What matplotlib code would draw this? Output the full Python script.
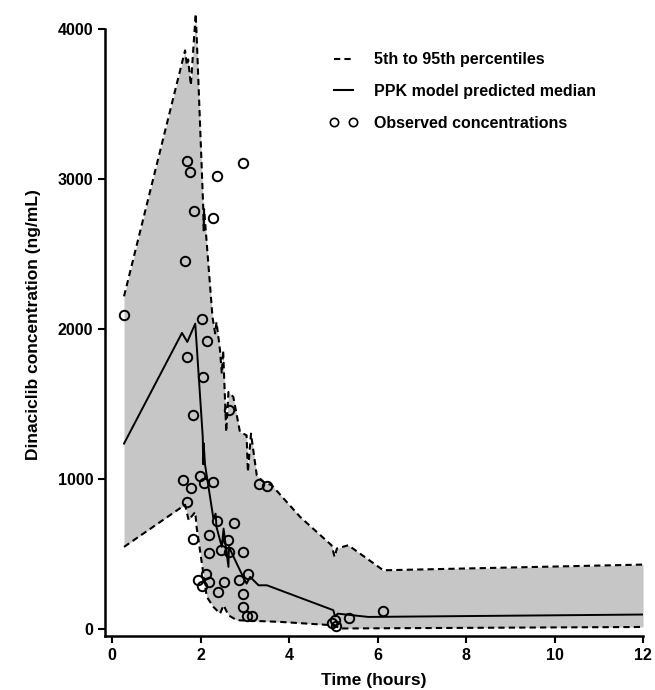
import numpy as np
import matplotlib
matplotlib.use("Agg")
from matplotlib import pyplot as plt
from matplotlib.lines import Line2D

plt.rcParams['font.family'] = ['Liberation Sans', 'DejaVu Sans']
plt.rcParams['font.weight'] = 'bold'

# 5th / 95th percentile bounds and median (hours, ng/mL)
upper_t = [0.27, 1.65, 1.69, 1.72, 1.78, 1.89, 1.91, 2.06, 2.07, 2.08, 2.27, 2.33, 2.36,
           2.44, 2.48, 2.51, 2.58, 2.63, 2.74, 2.89, 3.04, 3.07, 3.14, 3.27, 3.42, 3.61,
           4.25, 4.96, 5.03, 5.08, 5.34, 6.13, 12.0]
upper_c = [2220, 3860, 3760, 3800, 3627, 4104, 3970, 2815, 2660, 2800, 2080, 1973, 2049,
           1860, 1704, 1860, 1316, 1582, 1549, 1316, 1293, 1049, 1304, 1027, 982, 960,
           749, 560, 482, 538, 560, 393, 431]

lower_t = [0.27, 1.65, 1.73, 1.88, 1.91, 2.03, 2.14, 2.29, 2.44, 2.52, 2.63, 2.82, 3.80,
           4.96, 5.19, 12.0]
lower_c = [549, 830, 727, 782, 682, 438, 216, 149, 104, 160, 93, 60, 49,
           27, 5, 15]

median_t = [0.27, 1.58, 1.70, 1.88, 2.05, 2.06, 2.07, 2.10, 2.29, 2.34, 2.36, 2.48, 2.52,
            2.63, 2.64, 2.89, 3.04, 3.12, 3.31, 3.50, 5.00, 5.04, 5.10, 5.79, 12.0]
median_c = [1238, 1976, 1916, 2038, 1280, 1100, 1240, 1100, 738, 771, 682, 549, 671,
            416, 549, 393, 304, 349, 293, 293, 127, 85, 104, 82, 98]

# observed concentrations
obs_t = [0.27, 1.69, 1.76, 2.37, 2.97, 1.86, 2.29, 1.65, 2.03, 2.15, 1.69, 2.05, 1.82,
         2.65, 3.31, 3.50, 1.60, 1.79, 1.98, 2.07, 2.29, 1.69, 2.37, 2.76, 1.84, 2.20,
         2.63, 2.20, 2.46, 2.64, 2.97, 2.12, 1.95, 2.03, 2.20, 2.52, 2.87, 3.07, 2.39,
         2.97, 2.97, 3.06, 3.16, 4.96, 5.03, 5.06, 5.36, 6.13]
obs_c = [2096, 3122, 3049, 3020, 3109, 2789, 2740, 2456, 2070, 1920, 1816, 1682, 1429,
         1460, 971, 953, 996, 942, 1024, 978, 984, 849, 720, 711, 604, 629,
         598, 507, 527, 516, 513, 371, 327, 289, 318, 313, 331, 367, 251,
         238, 149, 89, 89, 44, 60, 24, 76, 122]

xticks = [0, 2, 4, 6, 8, 10, 12]
yticks = [0, 1000, 2000, 3000, 4000]

fig = plt.figure(figsize=(6.55, 6.9), dpi=100)
ax = fig.add_axes([0.1603, 0.0783, 0.8214, 0.903])

# shaded band between percentiles
grid_t = np.union1d(upper_t, lower_t)
ax.fill_between(grid_t, np.interp(grid_t, lower_t, lower_c), np.interp(grid_t, upper_t, upper_c),
                color='#c6c6c6', lw=0, zorder=1)

ax.plot(upper_t, upper_c, 'k--', lw=1.5, dashes=(3, 2), zorder=2)
ax.plot(lower_t, lower_c, 'k--', lw=1.5, dashes=(3, 2), zorder=2)
ax.plot(median_t, median_c, 'k-', lw=1.4, zorder=3)
ax.plot(obs_t, obs_c, 'o', mfc='none', mec='black', ms=6.8, mew=1.4, zorder=4)

ax.set_xlim(-0.16, 12.0)
ax.set_ylim(-45, 4110)
ax.set_xticks(xticks)
ax.set_yticks(yticks)
ax.spines['top'].set_visible(False)
ax.spines['right'].set_visible(False)
ax.spines['left'].set_bounds(-45, 4000)
for s in ['left', 'bottom']:
    ax.spines[s].set_linewidth(1.8)
ax.tick_params(direction='out', length=5, width=1.5, labelsize=11.5)
for lab in ax.get_xticklabels() + ax.get_yticklabels():
    lab.set_fontweight('bold')

ax.set_xlabel("Time (hours)", fontsize=12.5, fontweight='bold', labelpad=7)
ax.set_ylabel("Dinaciclib concentration (ng/mL)", fontsize=12.5, fontweight='bold', labelpad=12)

handles = [Line2D([], [], color='k', ls='--', lw=1.5, dashes=(3, 2)),
           Line2D([], [], color='k', ls='-', lw=1.5),
           Line2D([], [], color='k', ls='none', marker='o', mfc='none', ms=6, mew=1.2)]
labels = ["5th to 95th percentiles", "PPK model predicted median", "Observed concentrations"]
ax.legend(handles, labels, loc='upper left', bbox_to_anchor=(0.39, 0.96), frameon=False,
          numpoints=2, handlelength=1.8, handletextpad=1.0, labelspacing=1.05,
          prop={'size': 11.5, 'weight': 'bold'})

plt.savefig("out.png", dpi=100)
